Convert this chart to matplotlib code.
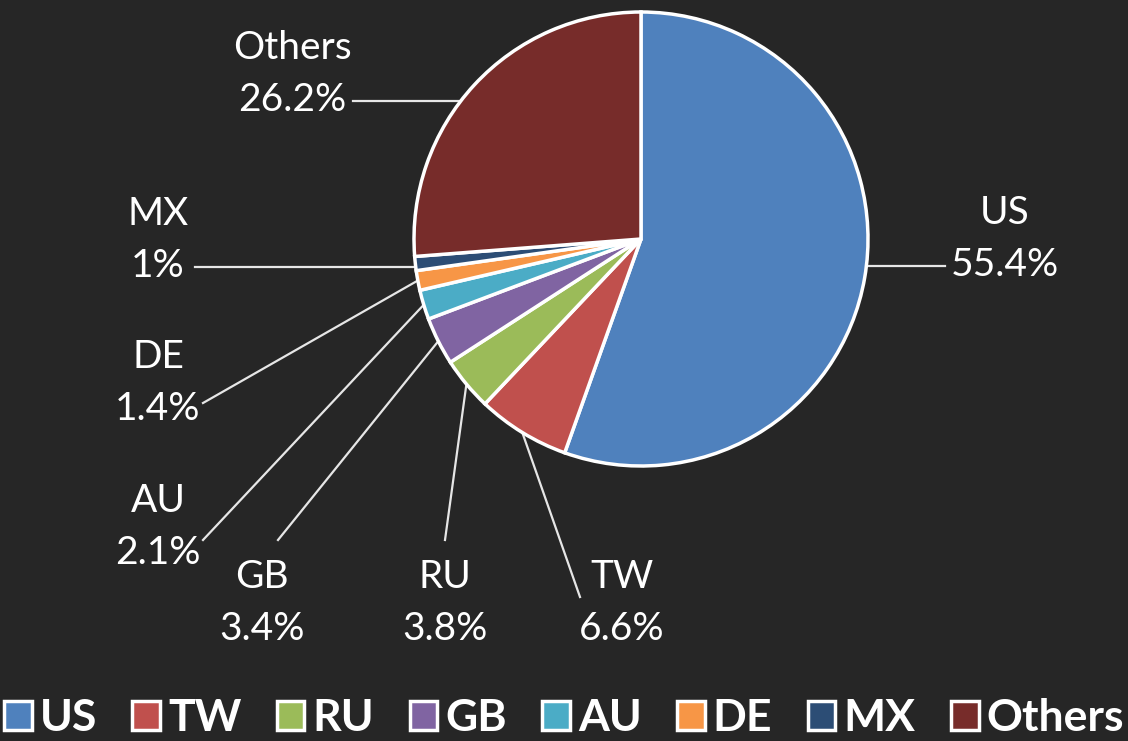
import numpy as np
import matplotlib
matplotlib.use('Agg')
import matplotlib.pyplot as plt
from matplotlib.patches import Patch

countries = ["US", "TW", "RU", "GB", "AU", "DE", "MX", "Others"]
shares = [55.4, 6.6, 3.8, 3.4, 2.1, 1.4, 1.0, 26.2]
pct_labels = ["55.4%", "6.6%", "3.8%", "3.4%", "2.1%", "1.4%", "1%", "26.2%"]
colors = ["#4F81BD", "#C0504D", "#9BBB59", "#8064A2", "#4BACC6", "#F79646", "#2C4D75", "#772C2A"]

# label layout in pixels (x, y from top): text centre and leader-line end near the text
label_xy = [(1005, 239), (622, 603), (445, 603), (262, 603), (158, 527), (158, 383), (158, 240), (292, 74)]
line_end = [(945, 266), (580, 597), (445, 540), (278, 540), (203, 540), (203, 403), (195, 267), (353, 101)]
flat_line = [True, False, False, False, False, False, True, True]

W, H = 1128, 741
BG = "#262626"
cx, cy, r = 641, H - 239, 227

plt.rcParams['font.family'] = ['Lato', 'DejaVu Sans']
fig = plt.figure(figsize=(W / 100, H / 100), dpi=100, facecolor=BG)
ax = fig.add_axes([0, 0, 1, 1])
ax.set_facecolor(BG)

wedges, _ = ax.pie(shares, colors=colors, startangle=90, counterclock=False,
                   center=(cx, cy), radius=r,
                   wedgeprops=dict(edgecolor='white', linewidth=2.5))
ax.set_xlim(0, W)
ax.set_ylim(0, H)
ax.set_aspect('equal')
ax.axis('off')

for w, name, pct, (lx, ly), (ex, ey), flat in zip(wedges, countries, pct_labels,
                                                  label_xy, line_end, flat_line):
    ly, ey = H - ly, H - ey
    ax.text(lx, ly, f"{name}\n{pct}", ha='center', va='center', color='white',
            fontsize=28, linespacing=1.52)
    if flat:
        dy = ey - cy
        side = 1 if ex > cx else -1
        px, py = cx + side * np.sqrt(r ** 2 - dy ** 2), ey
    else:
        mid = np.deg2rad((w.theta1 + w.theta2) / 2)
        px, py = cx + r * np.cos(mid), cy + r * np.sin(mid)
    ax.plot([ex, px], [ey, py], color='#e6e6e6', lw=1.6, zorder=0.5)

handles = [Patch(facecolor=c, edgecolor='white', linewidth=2.5) for c in colors]
leg = fig.legend(handles, countries, loc='center', ncol=8, frameon=False,
                 bbox_to_anchor=(0.5, 1 - 718 / H), handlelength=0.62, handleheight=0.62,
                 handletextpad=0.18, columnspacing=0.8, borderpad=0, borderaxespad=0,
                 prop=dict(family=['Lato', 'DejaVu Sans'], weight='bold', size=32))
for t in leg.get_texts():
    t.set_color('white')

fig.savefig("out.png", dpi=100, facecolor=BG)
